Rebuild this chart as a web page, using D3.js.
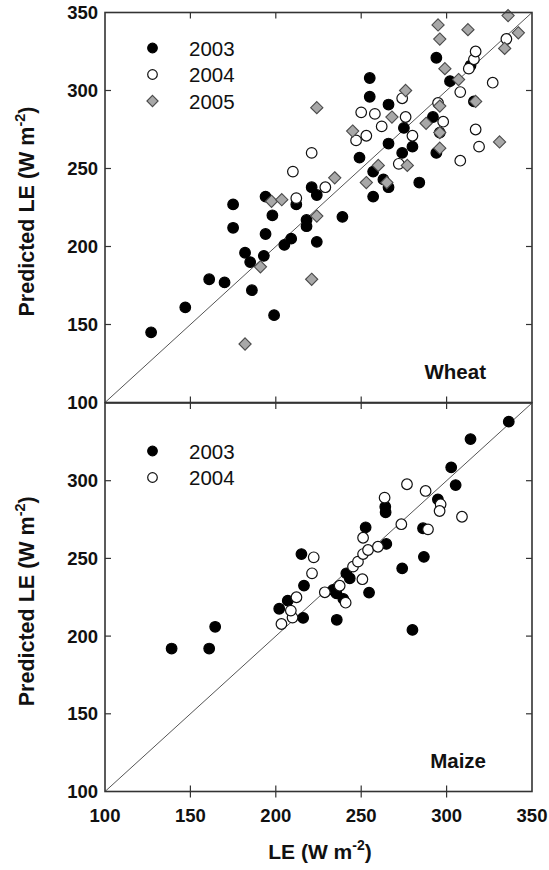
<!DOCTYPE html>
<html><head><meta charset="utf-8">
<script src="https://cdn.jsdelivr.net/npm/d3@7"></script>
<style>body{margin:0;background:#fff}svg{display:block}text{font-family:"Liberation Sans",Arial,sans-serif}</style>
</head><body>
<svg id="c" width="549" height="870"></svg>
<script>
// ---- data ----
const xTicks = [100,150,200,250,300,350];
const yTicksTop = [100,150,200,250,300,350];
const yTicksBottom = [100,150,200,250,300];
const wheatYears = ["2003","2004","2005"];
const maizeYears = ["2003","2004"];

const wheat2003 = [[127,145],[147,161],[161,179],[170,177],[182,196],[185,190],[186,172],[193,194],[194,208],[198,220],[199,156],[205,201],[209,205],[212,227],[175,212],[175,227],[218,217],[218,213],[224,203],[194,232],[221,238],[224,233],[239,219],[249,257],[255,308],[255,296],[266,291],[292,283],[275,276],[296,273],[266,266],[280,264],[294,260],[274,260],[257,248],[263,243],[266,238],[257,232],[284,241],[294,321],[302,306],[314,316],[316,293]];
const wheat2004 = [[212,231],[210,248],[221,260],[229,238],[247,268],[250,286],[258,285],[276,283],[262,277],[253,271],[274,295],[295,292],[298,280],[280,271],[317,275],[319,264],[308,255],[272,253],[308,299],[327,305],[313,314],[316,320],[317,325],[335,333]];
const wheat2005 = [[191,187],[182,137.5],[221,179],[224,219.5],[197.5,229],[203.5,230],[234.5,244],[224,289],[245,274],[276,300],[268,283],[288,279],[296,290],[296,273],[296,263],[331,267],[260,252],[277,252],[265,241],[253,241],[299,314],[307,307],[317,293],[295,342],[296,333],[312.5,339],[336,348],[342,337],[334,327]];

const maize2003 = [[139,192],[161,192],[164.5,206],[280,204],[202,217.6],[207,222.8],[216,211.7],[235.7,210.5],[216.5,232.5],[215,252.8],[233.5,229.7],[235.5,227.5],[239.5,224],[254.6,228],[241.3,240.4],[243.3,237.2],[274,243.6],[286.7,251],[264.7,259.3],[252.6,270],[286.2,269.4],[264.1,283.3],[264.3,279.7],[294.9,288],[305.3,297.2],[302.7,308.6],[314,326.8],[336.4,338]];
const maize2004 = [[203.3,207.8],[209.8,211.9],[208.8,216.4],[212.1,225],[221.2,240.4],[222.2,250.7],[228.7,228.2],[237.4,232.4],[240.9,221.5],[250.7,236.6],[245.2,244.7],[248.1,247.9],[251.1,252.8],[254,255.4],[259.8,257.5],[251.1,263.3],[273.5,272],[289.1,268.7],[263.7,289.1],[276.8,297.7],[287.7,293.4],[296.5,284.8],[295.9,280.5],[309,276.8]];

// ---- layout ----
const svg = d3.select("#c");
const X0 = 105, X1 = 532;
const x = d3.scaleLinear().domain([100,350]).range([X0,X1]);
const yTop = d3.scaleLinear().domain([100,350]).range([402.5,12.5]);
const yBot = d3.scaleLinear().domain([100,350]).range([791.5,403]);

const styles = {
  "2003": {shape:"circle", fill:"#000", stroke:"#000"},
  "2004": {shape:"circle", fill:"#fff", stroke:"#111"},
  "2005": {shape:"diamond", fill:"#a8a8a8", stroke:"#4a4a4a"}
};

function marker(g, cx, cy, st, r) {
  if (st.shape === "circle") {
    g.append("circle").attr("cx",cx).attr("cy",cy).attr("r",r)
      .attr("fill",st.fill).attr("stroke",st.stroke).attr("stroke-width",1.2);
  } else {
    const d = r + 0.8;
    g.append("path").attr("d",`M${cx},${cy-d}L${cx+d},${cy}L${cx},${cy+d}L${cx-d},${cy}Z`)
      .attr("fill",st.fill).attr("stroke",st.stroke).attr("stroke-width",1.1);
  }
}

function panel(y, yTicks, series, years, label, legendY, showBottomLabels) {
  const g = svg.append("g");
  const [yb, yt] = y.range();
  // 1:1 line
  g.append("line").attr("x1",x(100)).attr("y1",y(100)).attr("x2",x(350)).attr("y2",y(350))
    .attr("stroke","#555").attr("stroke-width",1);
  // points
  series.forEach((s,i) => {
    const st = styles[years[i]];
    s.forEach(p => marker(g, x(p[0]), y(p[1]), st, 5.3));
  });
  // frame
  g.append("rect").attr("x",X0).attr("y",yt).attr("width",X1-X0).attr("height",yb-yt)
    .attr("fill","none").attr("stroke","#333").attr("stroke-width",1.6);
  // ticks (inward)
  const tl = 6;
  xTicks.slice(1,-1).forEach(t => {
    g.append("line").attr("x1",x(t)).attr("x2",x(t)).attr("y1",yt).attr("y2",yt+tl).attr("stroke","#333").attr("stroke-width",1.2);
    g.append("line").attr("x1",x(t)).attr("x2",x(t)).attr("y1",yb-tl).attr("y2",showBottomLabels?yb+tl:yb).attr("stroke","#333").attr("stroke-width",1.2);
  });
  [150,200,250,300].forEach(t => {
    g.append("line").attr("y1",y(t)).attr("y2",y(t)).attr("x1",X0).attr("x2",X0+tl).attr("stroke","#333").attr("stroke-width",1.2);
    g.append("line").attr("y1",y(t)).attr("y2",y(t)).attr("x1",X1-tl).attr("x2",X1).attr("stroke","#333").attr("stroke-width",1.2);
  });
  // y tick labels
  yTicks.forEach(t => {
    g.append("text").attr("x",X0-7).attr("y",y(t)+6.5).attr("text-anchor","end")
      .attr("font-size",18.5).attr("font-weight","bold").attr("fill","#111").text(t);
  });
  if (showBottomLabels) {
    xTicks.forEach(t => {
      g.append("text").attr("x",x(t)).attr("y",yb+30).attr("text-anchor","middle")
        .attr("font-size",18.5).attr("font-weight","bold").attr("fill","#111").text(t);
    });
  }
  // panel label
  g.append("text").attr("x",486).attr("y",yb-24).attr("text-anchor","end")
    .attr("font-size",20.5).attr("font-weight","bold").attr("fill","#111").text(label);
  // legend
  years.forEach((yr,i) => {
    const ly = legendY + i*26.5;
    marker(g, 152.5, ly, styles[yr], 4.8);
    g.append("text").attr("x",189).attr("y",ly+7.5).attr("font-size",20.5).attr("fill","#111").text(yr);
  });
  // y axis title
  const cy = (yb+yt)/2 + 4;
  const tt = g.append("text").attr("transform",`translate(34,${cy}) rotate(-90)`)
    .attr("text-anchor","middle").attr("font-size",21.5).attr("font-weight","bold").attr("fill","#111");
  tt.append("tspan").text("Predicted LE (W m");
  tt.append("tspan").attr("font-size",14.5).attr("dy",-9).text("-2");
  tt.append("tspan").attr("dy",9).text(")");
}

panel(yTop, yTicksTop, [wheat2003, wheat2004, wheat2005], wheatYears, "Wheat", 48, false);
panel(yBot, yTicksBottom, [maize2003, maize2004], maizeYears, "Maize", 451, true);

// x axis title
const xt = svg.append("text").attr("x",320).attr("y",859).attr("text-anchor","middle")
  .attr("font-size",21).attr("font-weight","bold").attr("fill","#111");
xt.append("tspan").text("LE (W m");
xt.append("tspan").attr("font-size",14).attr("dy",-9).text("-2");
xt.append("tspan").attr("dy",9).text(")");
</script>
</body></html>
